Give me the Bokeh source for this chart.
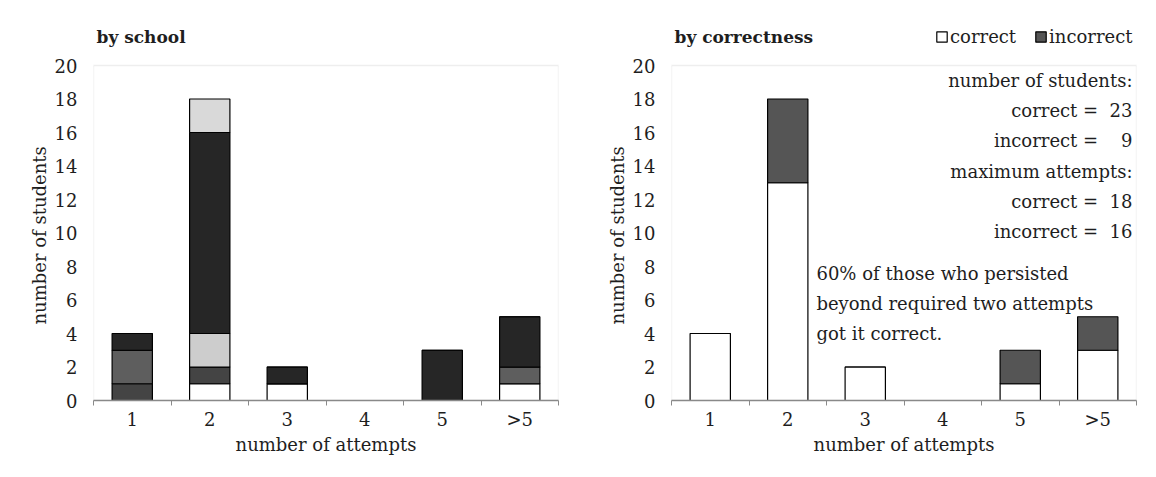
import numpy as np
from bokeh.plotting import figure
from bokeh.models import Range1d, FixedTicker, Legend, LegendItem, BoxAnnotation, Title
from bokeh.layouts import row
from bokeh.embed import file_html
from bokeh.resources import INLINE
from bokeh.core.properties import value

# ---------------- data ----------------
categories = ["1", "2", "3", "4", "5", ">5"]
y_ticks = [0, 2, 4, 6, 8, 10, 12, 14, 16, 18, 20]
y_max = 20

# left panel: students per school (stack order bottom -> top)
school_a = [0, 1, 1, 0, 0, 1]
school_b = [1, 1, 0, 0, 0, 0]
school_c = [2, 0, 0, 0, 0, 1]
school_d = [0, 2, 0, 0, 0, 0]
school_e = [1, 12, 1, 0, 3, 3]
school_f = [0, 2, 0, 0, 0, 0]
school_colors = ["#ffffff", "#444444", "#5e5e5e", "#cdcdcd", "#262626", "#d9d9d9"]

# right panel: by correctness
correct = [4, 13, 2, 0, 1, 3]
incorrect = [0, 5, 0, 0, 2, 2]
max_attempts_correct = 18
max_attempts_incorrect = 16

FONT = "DejaVu Serif"
TXT = "#1e1e1e"
NB = "\u00a0"
x = list(np.arange(len(categories)) + 1)

# layout constants (pixels)
W, H = 578, 472
TOP, BOTTOM = 20, 72
FRAME_H = H - TOP - BOTTOM          # 380 px, of which 335 px hold 0..20
Y_TOP = y_max * FRAME_H / 335.0      # extra head room inside frame for title & legend


def make_fig(title, bl, br):
    p = figure(width=W, height=H, x_range=Range1d(0.5, len(categories) + 0.5),
               y_range=Range1d(0, Y_TOP), output_backend="svg", toolbar_location=None,
               min_border_left=bl, min_border_right=br, min_border_top=TOP,
               min_border_bottom=BOTTOM)
    p.xgrid.grid_line_color = None
    p.ygrid.grid_line_color = None
    p.outline_line_color = None
    p.background_fill_color = "white"
    p.border_fill_color = "white"

    # dotted plot-area box covering 0..20
    p.add_layout(BoxAnnotation(left=0.5, right=len(categories) + 0.5, bottom=0, top=y_max,
                               fill_alpha=0, line_color="#8c8c8c", line_dash="1 1",
                               line_width=1.3))

    xa = p.xaxis[0]
    xa.ticker = FixedTicker(ticks=x, minor_ticks=[v - 0.5 for v in x] + [x[-1] + 0.5])
    xa.major_label_overrides = {int(v): c for v, c in zip(x, categories)}
    xa.major_tick_line_color = None
    xa.major_tick_out = 5
    xa.major_tick_in = 0
    xa.minor_tick_line_color = "#8a8a8a"
    xa.minor_tick_out = 5
    xa.minor_tick_in = 0
    xa.axis_line_color = "#8a8a8a"
    xa.axis_line_width = 1.5
    xa.major_label_text_font = FONT
    xa.major_label_text_font_size = "18px"
    xa.major_label_text_color = TXT
    xa.major_label_standoff = 3
    xa.axis_label = "number of attempts"
    xa.axis_label_text_font = FONT
    xa.axis_label_text_font_size = "18px"
    xa.axis_label_text_font_style = "normal"
    xa.axis_label_text_color = TXT
    xa.axis_label_standoff = 1

    ya = p.yaxis[0]
    ya.ticker = FixedTicker(ticks=y_ticks)
    ya.major_tick_line_color = None
    ya.minor_tick_line_color = None
    ya.major_tick_out = 0
    ya.axis_line_color = None
    ya.major_label_text_font = FONT
    ya.major_label_text_font_size = "18px"
    ya.major_label_text_color = TXT
    ya.major_label_standoff = 16

    ylab = Title(text="number of students", align="left", offset=76, standoff=4,
                 text_font=FONT, text_font_size="18px", text_font_style="normal",
                 text_color=TXT)
    p.add_layout(ylab, "left")

    # panel title inside head room
    p.text(x=[0.5], y=[y_max + 1.68], text=[title], x_offset=3,
           text_font=value(FONT), text_font_size="17px", text_font_style="bold",
           text_color=TXT, text_align="left", text_baseline="alphabetic")
    return p


# ---------------- left: by school ----------------
p1 = make_fig("by school", 93, 20)
src1 = dict(x=x, a=school_a, b=school_b, c=school_c, d=school_d, e=school_e, f=school_f)
p1.vbar_stack(["a", "b", "c", "d", "e", "f"], x="x", width=0.52, source=src1,
              fill_color=school_colors, line_color="black", line_width=1.2)

# ---------------- right: by correctness ----------------
p2 = make_fig("by correctness", 93, 20)
src2 = dict(x=x, correct=correct, incorrect=incorrect)
rends = p2.vbar_stack(["correct", "incorrect"], x="x", width=0.52, source=src2,
                      fill_color=["#ffffff", "#555555"], line_color="black", line_width=1.2)

legend = Legend(items=[LegendItem(label="correct", renderers=[rends[0]]),
                       LegendItem(label="incorrect", renderers=[rends[1]])],
                orientation="horizontal", location=(264, FRAME_H - 27))
legend.label_text_font = FONT
legend.label_text_font_size = "18px"
legend.label_text_color = TXT
legend.glyph_width = 13
legend.glyph_height = 13
legend.label_standoff = 2
legend.spacing = 18
legend.padding = 0
legend.margin = 0
legend.border_line_color = None
legend.background_fill_alpha = 0
p2.add_layout(legend)

n_correct = int(sum(correct))
n_incorrect = int(sum(incorrect))
stat_lines = ["number of students:",
              f"correct ={NB}{NB}{n_correct}",
              f"incorrect ={NB}{NB}{NB}{NB}{n_incorrect}",
              "maximum attempts:",
              f"correct ={NB}{NB}{max_attempts_correct}",
              f"incorrect ={NB}{NB}{max_attempts_incorrect}"]
stat_y = [19.1, 17.3, 15.5, 13.7, 11.9, 10.1]
p2.text(x=[len(categories) + 0.5] * len(stat_lines), y=stat_y, text=stat_lines,
        x_offset=-4, text_font=value(FONT), text_font_size="18px", text_color=TXT,
        text_align="right", text_baseline="middle")

beyond_two_correct = sum(correct[2:])
beyond_two_total = sum(correct[2:]) + sum(incorrect[2:])
pct = round(100 * beyond_two_correct / beyond_two_total)
note_lines = [f"{pct}% of those who persisted",
              "beyond required two attempts",
              "got it correct."]
note_y = [7.6, 5.8, 4.0]
p2.text(x=[2.37] * 3, y=note_y, text=note_lines,
        text_font=value(FONT), text_font_size="18px", text_color=TXT,
        text_align="left", text_baseline="middle")

layout = row(p1, p2)
open("out.html", "w").write(file_html(layout, INLINE))
